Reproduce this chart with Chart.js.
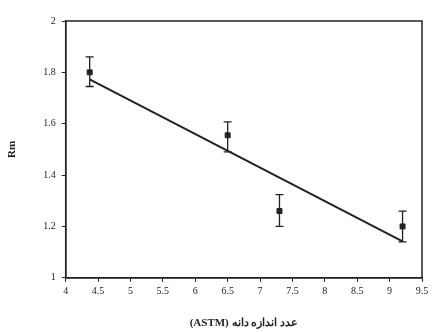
<!DOCTYPE html>
<html><head><meta charset="utf-8">
<script src="https://cdn.jsdelivr.net/npm/chart.js@4/dist/chart.umd.min.js"></script>
<style>html,body{margin:0;padding:0;background:#fff}#wrap{width:433px;height:332px}</style>
</head><body><div id="wrap"><canvas id="c"></canvas></div>
<script>
const grainSize = [4.37, 6.5, 7.3, 9.2];
const rmValues = [1.80, 1.555, 1.26, 1.20];
const errUpper = [1.86, 1.607, 1.324, 1.26];
const errLower = [1.745, 1.49, 1.20, 1.14];
const fitX = [4.37, 9.2];
const fitY = [1.773, 1.142];
const xTitle = '(ASTM) عدد اندازه دانه';
const yTitle = 'Rm';

const boxPlugin = {
  id: 'box',
  afterDatasetsDraw(chart) {
    const {ctx, chartArea: a, scales} = chart;
    ctx.save();
    ctx.strokeStyle = '#222';
    ctx.lineWidth = 1.5;
    ctx.strokeRect(a.left, a.top, a.right - a.left, a.bottom - a.top);
    ctx.lineWidth = 1.3;
    for (let i = 0; i < grainSize.length; i++) {
      const x = scales.x.getPixelForValue(grainSize[i]);
      const yt = scales.y.getPixelForValue(errUpper[i]);
      const yb = scales.y.getPixelForValue(errLower[i]);
      ctx.beginPath();
      ctx.moveTo(x, yt); ctx.lineTo(x, yb);
      ctx.moveTo(x - 4, yt); ctx.lineTo(x + 4, yt);
      ctx.moveTo(x - 4, yb); ctx.lineTo(x + 4, yb);
      ctx.stroke();
    }
    ctx.restore();
  }
};

const fmt = v => (Math.abs(v - Math.round(v)) < 1e-9 ? String(Math.round(v)) : String(Math.round(v * 10) / 10));

new Chart(document.getElementById('c'), {
  type: 'scatter',
  data: {
    datasets: [
      {
        label: 'fit',
        data: fitX.map((x, i) => ({x, y: fitY[i]})),
        showLine: true,
        borderColor: '#222',
        borderWidth: 2,
        pointRadius: 0,
        fill: false
      },
      {
        label: 'Rm',
        data: grainSize.map((x, i) => ({x, y: rmValues[i]})),
        pointStyle: 'rect',
        pointRadius: 3.5,
        backgroundColor: '#222',
        borderColor: '#222'
      }
    ]
  },
  plugins: [boxPlugin],
  options: {
    responsive: true,
    maintainAspectRatio: false,
    animation: false,
    layout: {padding: {top: 21, right: 11, left: 6, bottom: 2}},
    plugins: {legend: {display: false}, tooltip: {enabled: false}},
    scales: {
      x: {
        type: 'linear', min: 4, max: 9.5,
        ticks: {stepSize: 0.5, color: '#222', font: {family: 'Liberation Serif', size: 10}, maxRotation: 0, padding: 4, callback: fmt},
        grid: {drawOnChartArea: false, drawTicks: true, tickLength: 4, color: '#222'},
        border: {display: true, color: '#222', width: 1.5},
        title: {display: true, text: xTitle, color: '#222', font: {family: 'Liberation Serif', size: 11, weight: 'bold'}, padding: {top: 15, bottom: 0}}
      },
      y: {
        type: 'linear', min: 1, max: 2,
        ticks: {stepSize: 0.2, color: '#222', font: {family: 'Liberation Serif', size: 10}, padding: 6, callback: fmt},
        grid: {drawOnChartArea: false, drawTicks: true, tickLength: 4, color: '#222'},
        border: {display: true, color: '#222', width: 1.5},
        title: {display: true, text: yTitle, color: '#222', font: {family: 'Liberation Serif', size: 11, weight: 'bold'}, padding: {top: 0, bottom: 18}}
      }
    }
  }
});
</script></body></html>
